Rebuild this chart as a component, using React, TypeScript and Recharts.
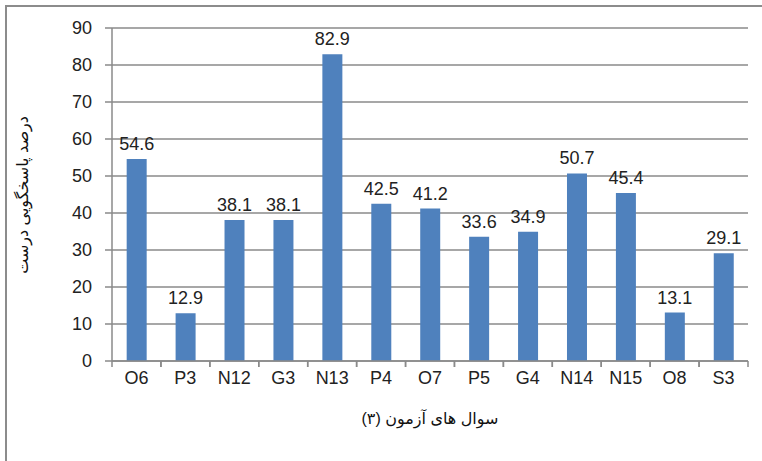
import { BarChart, Bar, XAxis, YAxis, CartesianGrid, LabelList } from 'recharts';

const questions = ['O6', 'P3', 'N12', 'G3', 'N13', 'P4', 'O7', 'P5', 'G4', 'N14', 'N15', 'O8', 'S3'];
const correctPct = [54.6, 12.9, 38.1, 38.1, 82.9, 42.5, 41.2, 33.6, 34.9, 50.7, 45.4, 13.1, 29.1];
const yTicks = [0, 10, 20, 30, 40, 50, 60, 70, 80, 90];

const data = questions.map((q, i) => ({ q, v: correctPct[i] }));

const W = 762, H = 461;
const LEFT = 112, RIGHT = 748, TOP = 28, BOTTOM = 361;
const band = (RIGHT - LEFT) / questions.length;
const font = '"Liberation Sans", "DejaVu Sans", sans-serif';
const grey = '#8a8a8a';

// tick marks sit on category boundaries, label in the middle
const XTick = ({ x, y, payload }: any) => (
  <g>
    <line x1={x - band / 2} x2={x - band / 2} y1={BOTTOM} y2={BOTTOM + 6} stroke={grey} strokeWidth={1.5} />
    <line x1={x + band / 2} x2={x + band / 2} y1={BOTTOM} y2={BOTTOM + 6} stroke={grey} strokeWidth={1.5} />
    <text x={x} y={y + 15} textAnchor="middle" fontSize={18} fill="#222" fontFamily={font}>{payload.value}</text>
  </g>
);

export default function App() {
  return (
    <div style={{ position: 'absolute', left: 0, top: 0, width: W, height: H, background: '#fff', overflow: 'hidden' }}>
      <div style={{ position: 'absolute', left: 5, top: 5, width: W, height: H, borderLeft: '2px solid #8c8c8c', borderTop: '2px solid #8c8c8c', boxSizing: 'border-box' }} />
      <div style={{ position: 'absolute', left: 0, top: 0 }}>
        <BarChart width={W} height={H} data={data} margin={{ top: TOP, right: W - RIGHT, bottom: H - BOTTOM - 30, left: 0 }} barCategoryGap="30%">
          <CartesianGrid vertical={false} stroke={grey} strokeWidth={1.5} />
          <XAxis dataKey="q" height={30} stroke={grey} strokeWidth={1.5} tickLine={false} tick={<XTick />} interval={0} />
          <YAxis width={LEFT} domain={[0, 90]} ticks={yTicks} stroke={grey} strokeWidth={1.5} tickSize={7} tickMargin={13}
            tick={{ fontSize: 18, fill: '#222', fontFamily: font }} />
          <Bar dataKey="v" fill="#4f81bd" isAnimationActive={false}>
            <LabelList dataKey="v" position="top" offset={9} style={{ fontSize: 18, fill: '#222', fontFamily: font }} />
          </Bar>
        </BarChart>
      </div>
      <div style={{ position: 'absolute', left: LEFT, width: RIGHT - LEFT, top: 409, textAlign: 'center', fontSize: 16, fontFamily: font, color: '#111', direction: 'rtl' }}>
        سوال های آزمون (۳)
      </div>
      <div style={{ position: 'absolute', left: 22, top: 195, transform: 'translate(-50%, -50%) rotate(-90deg)', whiteSpace: 'nowrap', fontSize: 16, fontFamily: font, color: '#111', direction: 'rtl' }}>
        درصد پاسخگویی درست
      </div>
    </div>
  );
}
